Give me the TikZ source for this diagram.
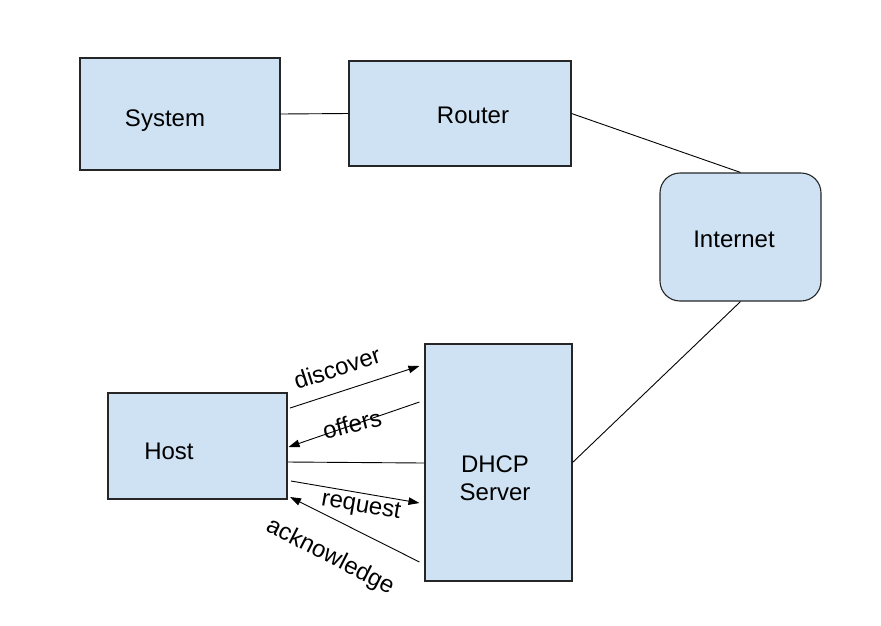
\documentclass[tikz,border=0pt]{standalone}
\usepackage{fontspec}
\setmainfont{Liberation Sans}
\usetikzlibrary{arrows.meta,calc}
\definecolor{boxblue}{RGB}{207,226,243}
\begin{document}
\begin{tikzpicture}[x=1pt, y=-1pt,
    box/.style={draw=black!85, fill=boxblue, line width=1.1pt, inner sep=0pt},
    txt/.style={font=\fontsize{24}{28}\selectfont, inner sep=0pt},
    conn/.style={line width=0.9pt},
    arr/.style={line width=0.9pt, -{Triangle[length=11pt,width=7.5pt]}}]
\useasboundingbox (0,0) rectangle (881,625);
\node[box, minimum width=200pt, minimum height=112pt,
    label={[txt, xshift=-15pt, yshift=-7pt]center:System}] (sys) at (180,114) {};
\node[box, minimum width=222pt, minimum height=105pt,
    label={[txt, xshift=13pt, yshift=-1.5pt]center:Router}] (router) at (460,113.5) {};
\node[box, rounded corners=20pt, minimum width=161pt, minimum height=128pt,
    label={[txt, xshift=-6.5pt, yshift=-2pt]center:Internet}] (inet) at (740.5,237) {};
\node[box, minimum width=179pt, minimum height=106pt,
    label={[txt, xshift=-28.5pt, yshift=-5.5pt]center:Host}] (host) at (197.5,446) {};
\node[box, minimum width=147pt, minimum height=237pt,
    label={[txt, align=center, xshift=-3.5pt, yshift=-16pt]center:DHCP\\Server}] (dhcp) at (498.5,462.5) {};
% links
\draw[conn] (sys.east) -- (router.west);
\draw[conn] (router.east) -- (inet.north);
\draw[conn] (inet.south) -- (dhcp.east);
\draw[conn] ($(host.east)+(0,16)$) -- ($(dhcp.west)+(0,0.5)$);
% dhcp messages
\draw[arr] ($(host.east)+(2.5,-38)$) -- ($(dhcp.west)+(-5,-96.5)$);
\draw[arr] ($(dhcp.west)+(-5,-60.5)$) -- ($(host.east)+(1,1)$);
\draw[arr] ($(host.east)+(3.5,35)$) -- ($(dhcp.west)+(-5,40.5)$);
\draw[arr] ($(dhcp.west)+(-5,99.5)$) -- ($(host.east)+(2.5,51)$);
\node[txt, rotate=18] (ldisc) at (337,368) {discover};
\node[txt, rotate=14] (loff) at (352,424) {offers};
\node[txt, rotate=-10] (lreq) at (361,507) {request};
\node[txt, rotate=-27] (lack) at (330,557) {acknowledge};
\end{tikzpicture}
\end{document}
